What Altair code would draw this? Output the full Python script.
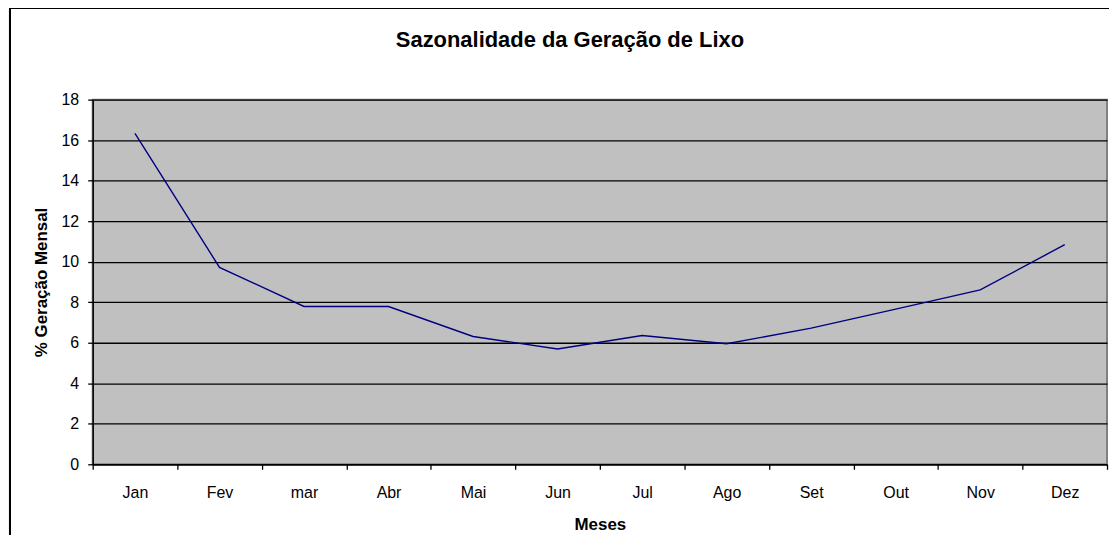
import altair as alt
import pandas as pd

months = ["Jan", "Fev", "mar", "Abr", "Mai", "Jun", "Jul", "Ago", "Set", "Out", "Nov", "Dez"]
values = [16.34, 9.72, 7.79, 7.79, 6.31, 5.69, 6.36, 5.95, 6.72, 7.66, 8.61, 10.84]
y_ticks = [0, 2, 4, 6, 8, 10, 12, 14, 16, 18]

df = pd.DataFrame({"Mes": months, "Valor": values})

FONT = "Liberation Sans"

line = alt.Chart(df).mark_line(color="#000080", strokeWidth=1.4).encode(
    x=alt.X(
        "Mes:N",
        sort=months,
        scale=alt.Scale(paddingInner=0, paddingOuter=0),
        axis=alt.Axis(
            title="Meses",
            labelAngle=0,
            labelFont=FONT,
            labelFontSize=16,
            labelColor="black",
            labelPadding=15,
            labelBaseline="top",
            tickBand="extent",
            tickColor="black",
            tickSize=5,
            tickWidth=1.3,
            domainColor="black",
            domainWidth=1.5,
            grid=False,
            titleFont=FONT,
            titleFontSize=17,
            titleFontWeight="bold",
            titleColor="black",
            titleX=509,
            titleY=65,
            titleAlign="center",
            titleBaseline="alphabetic",
        ),
    ),
    y=alt.Y(
        "Valor:Q",
        scale=alt.Scale(domain=[0, 18], nice=False, zero=True),
        axis=alt.Axis(
            title="% Geração Mensal",
            values=y_ticks,
            labelFont=FONT,
            labelFontSize=16,
            labelColor="black",
            labelPadding=9,
            tickColor="black",
            tickSize=5,
            tickWidth=1.3,
            domainColor="black",
            domainWidth=1.5,
            grid=True,
            gridColor="black",
            gridWidth=1.3,
            titleFont=FONT,
            titleFontSize=17,
            titleFontWeight="bold",
            titleColor="black",
            titleAngle=270,
            titleX=-51,
            titleY=183,
            titleAlign="center",
            titleBaseline="middle",
        ),
    ),
)

frame = alt.Chart(df).mark_rect(
    filled=False, stroke="black", strokeWidth=2
).encode(
    x=alt.value(-83),
    x2=alt.value(1040),
    y=alt.value(-92),
    y2=alt.value(480),
)

chart = alt.layer(line, frame).properties(
    width=1018,
    height=366,
    autosize=alt.AutoSizeParams(type="none"),
    padding={"left": 85, "top": 91, "right": 2, "bottom": 70},
    title=alt.TitleParams(
        text="Sazonalidade da Geração de Lixo",
        font=FONT,
        fontSize=22,
        fontWeight="bold",
        color="black",
        anchor="middle",
        frame="group",
        dx=-30,
        offset=-62,
        baseline="alphabetic",
    ),
).configure(
    background="white"
).configure_view(
    fill="#C0C0C0", stroke="#808080", strokeWidth=2
)

chart.save("out.html", embed_options={"renderer": "svg", "actions": False})
